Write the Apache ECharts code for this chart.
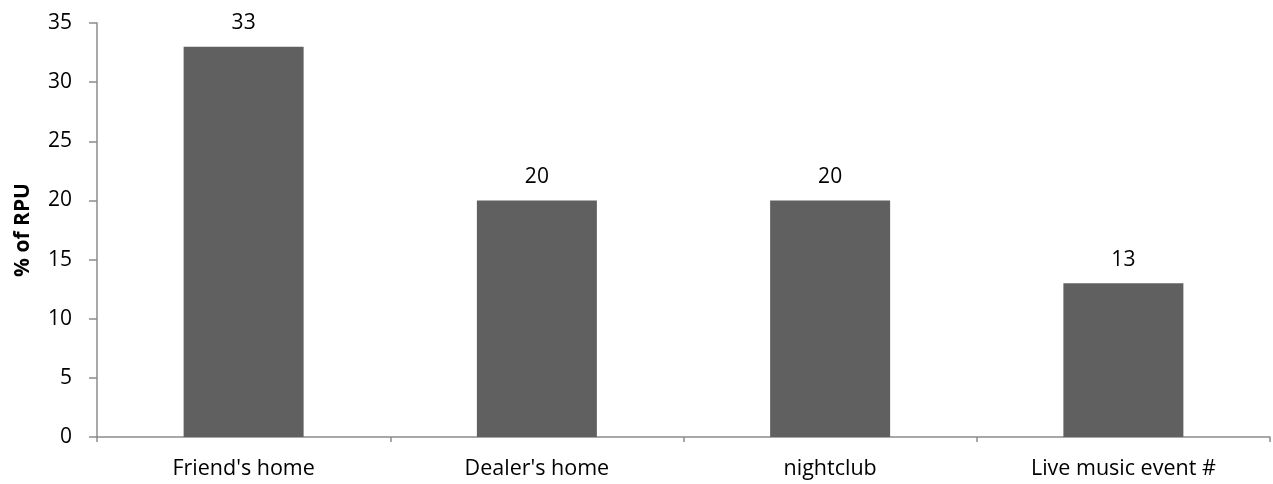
<!DOCTYPE html>
<html>
<head>
<meta charset="utf-8">
<script src="https://cdn.jsdelivr.net/npm/echarts@6/dist/echarts.min.js"></script>
<style>
  html, body { margin: 0; padding: 0; background: #fff; }
  #chart { width: 1273px; height: 484px; }
</style>
</head>
<body>
<div id="chart"></div>
<script>
// Where reported purchases took place
const categories = ["Friend's home", "Dealer's home", "nightclub", "Live music event #"];
const percentRPU = [33, 20, 20, 13];
const yTicks = { min: 0, max: 35, interval: 5 };

const FONT = '"Open Sans", Lato, sans-serif';
const AXIS_GREY = '#8c8c8c';

const chart = echarts.init(document.getElementById('chart'));
chart.setOption({
  animation: false,
  grid: { left: 97, right: 3, top: 23, bottom: 47, containLabel: false },
  xAxis: {
    type: 'category',
    data: categories,
    axisLine: { lineStyle: { color: AXIS_GREY, width: 1.5 } },
    axisTick: { show: true, length: 5, alignWithLabel: false, lineStyle: { color: AXIS_GREY, width: 1.5 } },
    axisLabel: { color: '#000', fontFamily: FONT, fontSize: 21.5, margin: 21 }
  },
  yAxis: {
    type: 'value',
    min: yTicks.min, max: yTicks.max, interval: yTicks.interval,
    name: '% of RPU',
    nameLocation: 'middle',
    nameGap: 63,
    nameTextStyle: { color: '#000', fontFamily: FONT, fontSize: 21, fontWeight: 'bold' },
    axisLine: { show: true, lineStyle: { color: AXIS_GREY, width: 1.5 } },
    axisTick: { show: true, length: 8, lineStyle: { color: AXIS_GREY, width: 1.5 } },
    splitLine: { show: false },
    axisLabel: { color: '#000', fontFamily: FONT, fontSize: 21, margin: 25 }
  },
  series: [{
    type: 'bar',
    data: percentRPU,
    barWidth: 120,
    itemStyle: { color: '#606060' },
    label: {
      show: true, position: 'top', distance: 13,
      color: '#000', fontFamily: FONT, fontSize: 21
    }
  }]
});
</script>
</body>
</html>
